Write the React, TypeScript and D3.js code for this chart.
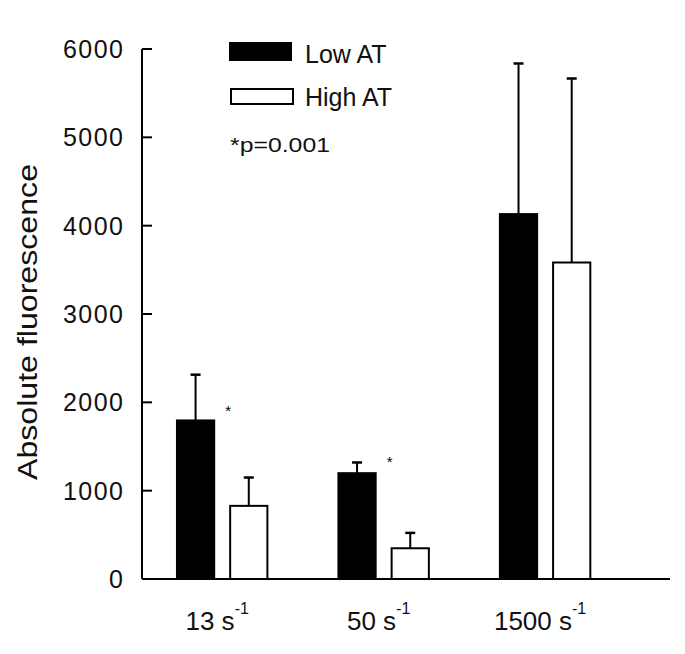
import React from "react";
import * as d3 from "d3";

const categories = ["13", "50", "1500"];
const series = ["Low AT", "High AT"];
const lowMeans = [1795, 1198, 4131];
const lowSD = [518, 121, 1705];
const highMeans = [828, 348, 3583];
const highSD = [321, 174, 2083];
const starValues = [1950, 1375, null];
const yTicks = [0, 1000, 2000, 3000, 4000, 5000, 6000];

const W = 685;
const H = 654;
const FONT = "'Liberation Sans', Arial, sans-serif";

export default function App() {
  const x0 = 142;
  const x1 = 670;
  const y = d3.scaleLinear().domain([0, 6000]).range([579, 49]);

  const xGroup = d3
    .scaleBand<string>()
    .domain(categories)
    .range([x0, x1])
    .paddingInner(0.44)
    .paddingOuter(0.355)
    .align(0.305);

  const xSeries = d3
    .scaleBand<string>()
    .domain(series)
    .range([0, xGroup.bandwidth()])
    .paddingInner(0.3);

  const data = [lowMeans, highMeans];
  const sds = [lowSD, highSD];

  return (
    <svg width={W} height={H} style={{ position: "absolute", left: 0, top: 0, background: "#fff" }}>
      <rect width={W} height={H} fill="#fff" />

      {/* bars + error bars */}
      {categories.map((c, ci) => (
        <g key={c} transform={`translate(${xGroup(c)},0)`}>
          {series.map((s, si) => {
            const v = data[si][ci];
            const e = v + sds[si][ci];
            const bx = xSeries(s)!;
            const bw = xSeries.bandwidth();
            const cx = bx + bw / 2;
            return (
              <g key={s}>
                <line x1={cx} x2={cx} y1={y(v)} y2={y(e)} stroke="#000" strokeWidth={2} />
                <line x1={cx - 5} x2={cx + 5} y1={y(e)} y2={y(e)} stroke="#000" strokeWidth={2.5} />
                <rect
                  x={bx}
                  y={y(v)}
                  width={bw}
                  height={y(0) - y(v)}
                  fill={si === 0 ? "#000" : "#fff"}
                  stroke="#000"
                  strokeWidth={2}
                />
              </g>
            );
          })}
          {starValues[ci] != null && (
            <text
              x={xSeries(series[1])! - 2}
              y={y(starValues[ci] as number) + 9}
              fontFamily={FONT}
              fontSize={15}
              textAnchor="middle"
              fill="#000"
            >
              *
            </text>
          )}
        </g>
      ))}

      {/* axes */}
      <line x1={x0} x2={x0} y1={y(6000)} y2={y(0)} stroke="#000" strokeWidth={2} />
      <line x1={x0} x2={x1} y1={y(0)} y2={y(0)} stroke="#000" strokeWidth={2} />
      {yTicks.map((t) => (
        <g key={t}>
          <line x1={x0} x2={x0 + 10} y1={y(t)} y2={y(t)} stroke="#000" strokeWidth={2} />
          <text
            x={124.5}
            y={y(t)}
            dy="0.36em"
            textAnchor="end"
            fontFamily={FONT}
            fontSize={25}
            letterSpacing={1.5}
            fill="#111"
          >
            {t}
          </text>
        </g>
      ))}

      {/* x labels */}
      {categories.map((c) => (
        <text
          key={c}
          x={xGroup(c)! + xGroup.bandwidth() / 2 - 5}
          y={630}
          textAnchor="middle"
          fontFamily={FONT}
          fontSize={26}
          fill="#111"
        >
          {c} s
          <tspan fontSize={16} dy={-16}>-1</tspan>
        </text>
      ))}

      {/* y title */}
      <text
        transform="translate(37,322) rotate(-90)"
        textAnchor="middle"
        fontFamily={FONT}
        fontSize={27}
        textLength={316}
        lengthAdjust="spacingAndGlyphs"
        fill="#111"
      >
        Absolute fluorescence
      </text>

      {/* legend */}
      <rect x={229} y={42} width={63} height={19} fill="#000" />
      <rect x={231} y={89} width={62} height={15} fill="#fff" stroke="#000" strokeWidth={2} />
      <text x={305} y={63} fontFamily={FONT} fontSize={25} fill="#111">
        {series[0]}
      </text>
      <text x={305} y={106} fontFamily={FONT} fontSize={25} fill="#111">
        {series[1]}
      </text>
      <text
        x={230}
        y={152}
        fontFamily={FONT}
        fontSize={21}
        textLength={100}
        lengthAdjust="spacingAndGlyphs"
        fill="#111"
      >
        *p=0.001
      </text>
    </svg>
  );
}
